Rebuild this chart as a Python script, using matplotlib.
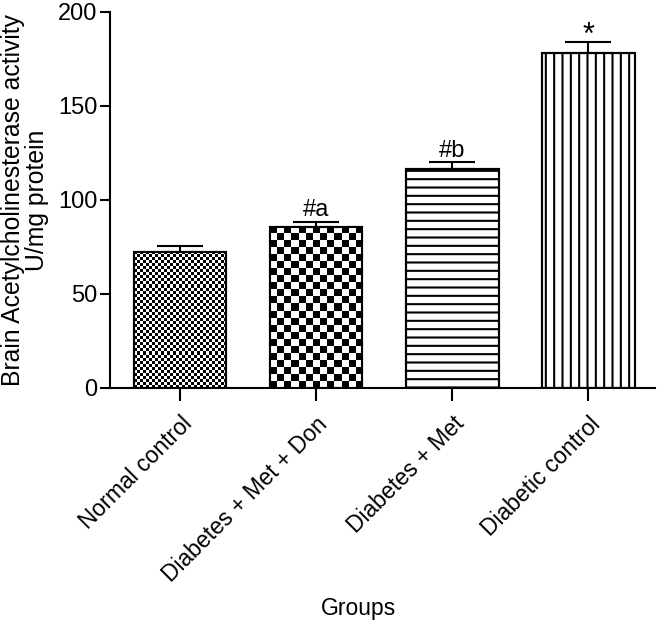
import numpy as np
import matplotlib
matplotlib.use("Agg")
import matplotlib.pyplot as plt

plt.rcParams['font.family'] = ['Liberation Sans', 'DejaVu Sans']
plt.rcParams['hatch.linewidth'] = 1.5

groups = ["Normal control", "Diabetes + Met + Don", "Diabetes + Met", "Diabetic control"]
means = [72.5, 85.8, 116.3, 178.4]
sems = [3.0, 2.5, 3.7, 5.6]
marks = ["", "#a", "#b", "*"]
hatches = ["", "", "--", "||"]
checker_px = [3.0, 7.0, None, None]   # checker square size in pixels

fig = plt.figure(figsize=(6.57, 6.34), dpi=100)
ax = fig.add_axes([110/657, 1 - 388/634, 545/657, 376/634])

x = np.arange(len(groups))
bars = ax.bar(x, means, width=0.68, color='white', edgecolor='black',
              linewidth=1.5, zorder=2)
for b, h in zip(bars, hatches):
    b.set_hatch(h)

ax.set_xlim(-0.515, 3.49)
ax.set_ylim(0, 200)

# checkerboard fills, clipped to their bars
for b, sq in zip(bars, checker_px):
    if sq is None:
        continue
    x0, y0 = b.get_x(), 0
    x1, y1 = b.get_x() + b.get_width(), b.get_height()
    p0 = ax.transData.transform((x0, y0))
    p1 = ax.transData.transform((x1, y1))
    nx = max(1, int(round((p1[0] - p0[0]) / sq)))
    ny = max(1, int(round((p1[1] - p0[1]) / sq)))
    arr = np.indices((ny, nx)).sum(axis=0) % 2
    im = ax.imshow(arr, cmap='gray', vmin=0, vmax=1, extent=(x0, x1, y0, y1),
                   origin='lower', interpolation='nearest', aspect='auto', zorder=2.5)
    im.set_clip_path(b)

# bar outlines on top
ax.bar(x, means, width=0.68, fill=False, edgecolor='black', linewidth=1.5, zorder=3)

ax.errorbar(x, means, yerr=[np.zeros(len(sems)), sems], fmt='none', ecolor='black',
            elinewidth=1.5, capsize=16.5, capthick=1.5, zorder=3)

for xi, m, s, t in zip(x, means, sems, marks):
    if t == "*":
        ax.text(xi, m + s - 1, t, ha='center', va='baseline', fontsize=22)
    elif t:
        ax.text(xi, m + s + 3, t, ha='center', va='baseline', fontsize=17)

ax.set_xlim(-0.515, 3.49)
ax.set_ylim(0, 200)
ax.set_yticks([0, 50, 100, 150, 200])
ax.set_xticks(x)
ax.set_xticklabels(groups, rotation=45, ha='right', rotation_mode='anchor', fontsize=16.5)
ax.tick_params(axis='y', labelsize=17, length=7, width=1.5, pad=2)
ax.tick_params(axis='x', length=9.5, width=1.5, pad=8)

for side in ['top', 'right']:
    ax.spines[side].set_visible(False)
for side in ['left', 'bottom']:
    ax.spines[side].set_linewidth(1.5)

ax.set_ylabel("Brain Acetylcholinesterase activity\nU/mg protein", fontsize=17.8,
              linespacing=1.0)
ax.yaxis.set_label_coords(-0.112, 0.5)

fig.text(359/657, 1 - 608/634, "Groups", ha='center', va='center', fontsize=16.5)

fig.savefig("out.png", dpi=100)
